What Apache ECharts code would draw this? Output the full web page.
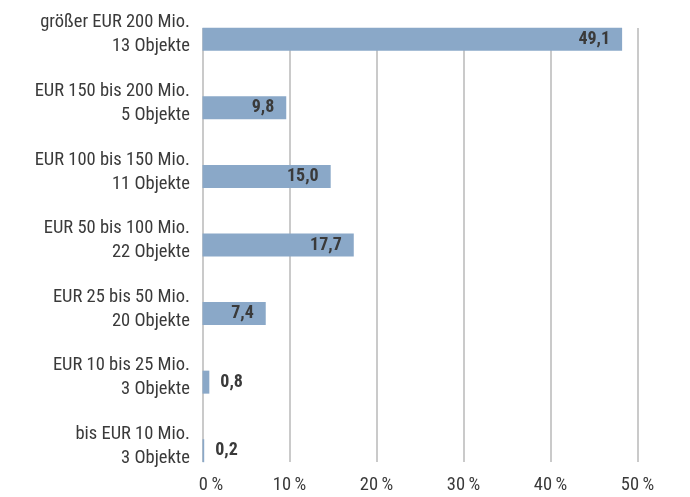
<!DOCTYPE html>
<html>
<head>
<meta charset="utf-8">
<script src="https://cdn.jsdelivr.net/npm/echarts@6/dist/echarts.min.js"></script>
<style>
html,body{margin:0;padding:0;background:#fff;}
#c{width:690px;height:497px;}
</style>
</head>
<body>
<div id="c"></div>
<script>
const categories = [
  "größer EUR 200 Mio.\n13 Objekte",
  "EUR 150 bis 200 Mio.\n5 Objekte",
  "EUR 100 bis 150 Mio.\n11 Objekte",
  "EUR 50 bis 100 Mio.\n22 Objekte",
  "EUR 25 bis 50 Mio.\n20 Objekte",
  "EUR 10 bis 25 Mio.\n3 Objekte",
  "bis EUR 10 Mio.\n3 Objekte"
];
const shares = [49.1, 9.8, 15.0, 17.7, 7.4, 0.8, 0.2];
const tickValues = [0, 10, 20, 30, 40, 50];

const FONT = '"Liberation Sans Narrow", "Roboto Condensed", Roboto, sans-serif';
const TXT = '#3a3a3a';

const data = shares.map(v => ({
  value: v,
  label: v < 3 ? { position: 'right', distance: 11 } : { position: 'insideRight', distance: 12 }
}));

const chart = echarts.init(document.getElementById('c'), null, { renderer: 'canvas' });
chart.setOption({
  animation: false,
  backgroundColor: '#fff',
  grid: [
    { left: 202.5, width: 435, top: 28, height: 434, containLabel: false },
    { left: 202.5, width: 435, top: 5, height: 480, containLabel: false }
  ],
  xAxis: [
    {
      gridIndex: 0, type: 'value', min: tickValues[0], max: tickValues[tickValues.length - 1], interval: 10,
      axisLine: { show: false }, axisTick: { show: false },
      splitLine: { show: true, lineStyle: { color: '#b8b8b8', width: 1.5 } },
      axisLabel: {
        margin: 14, color: TXT, fontFamily: FONT, fontSize: 18.5,
        showMinLabel: true, showMaxLabel: true,
        formatter: v => v === 0 ? '{z|0\u2009%}' : v + '\u2009%',
        rich: { z: { padding: [0, 0, 0, 17], color: TXT, fontFamily: FONT, fontSize: 18.5 } }
      }
    },
    {
      gridIndex: 1, type: 'value', min: 0, max: 50.9, show: false,
      splitLine: { show: false }
    }
  ],
  yAxis: [
    {
      gridIndex: 0, type: 'category', data: categories, show: false
    },
    {
      gridIndex: 1, type: 'category', data: categories, inverse: true,
      axisLine: { show: false }, axisTick: { show: false }, splitLine: { show: false },
      axisLabel: {
        margin: 12.5, interval: 0, showMinLabel: true, showMaxLabel: true, hideOverlap: false,
        align: 'right',
        formatter: v => v.split('\n').map(s => '{a|' + s + '}').join('\n') + '\n{s|}',
        rich: {
          a: { color: TXT, fontFamily: FONT, fontSize: 18.5, lineHeight: 24, align: 'right' },
          s: { fontSize: 8, lineHeight: 9 }
        }
      }
    }
  ],
  series: [
    {
      type: 'bar', xAxisIndex: 1, yAxisIndex: 1, data: data, barWidth: 23,
      itemStyle: { color: '#8aa8c8' },
      label: {
        show: true, color: TXT, fontFamily: FONT, fontSize: 18, fontWeight: 'bold',
        formatter: p => p.value.toFixed(1).replace('.', ',')
      }
    }
  ]
});
</script>
</body>
</html>
